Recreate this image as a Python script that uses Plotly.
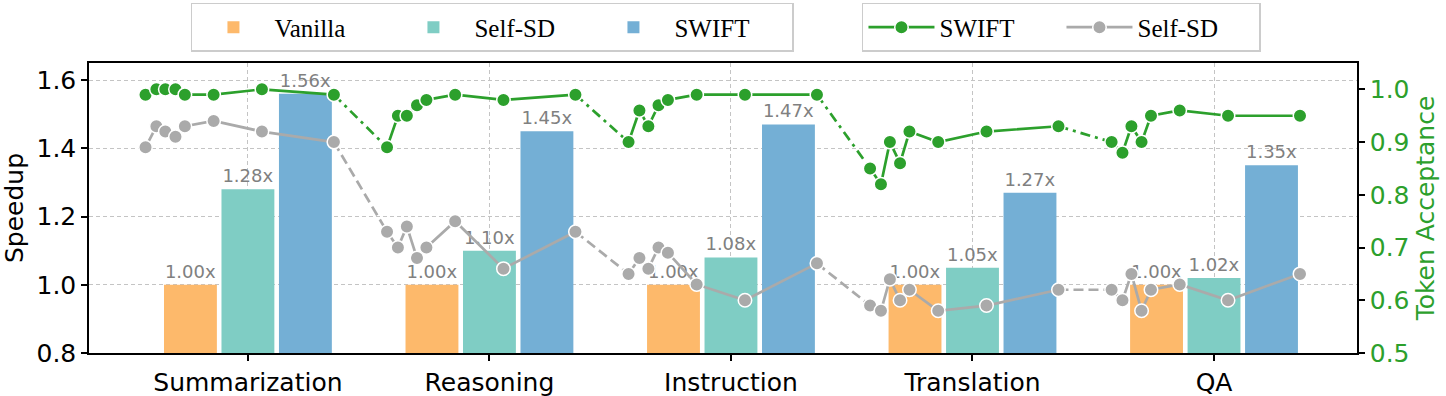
import plotly.graph_objects as go

# ---------------- data ----------------
categories = ["Summarization", "Reasoning", "Instruction", "Translation", "QA"]

vanilla_speedup = [1.00, 1.00, 1.00, 1.00, 1.00]
selfsd_speedup = [1.28, 1.10, 1.08, 1.05, 1.02]
swift_speedup = [1.56, 1.45, 1.47, 1.27, 1.35]

# x offsets (in category units) of the 8 acceptance points inside each task group
point_offsets = [-0.424, -0.379, -0.342, -0.300, -0.261, -0.142, 0.058, 0.356]

swift_acceptance = [
    [0.99, 1.00, 1.00, 1.00, 0.99, 0.99, 1.00, 0.99],
    [0.89, 0.95, 0.95, 0.97, 0.98, 0.99, 0.98, 0.99],
    [0.90, 0.96, 0.93, 0.97, 0.98, 0.99, 0.99, 0.99],
    [0.85, 0.82, 0.90, 0.86, 0.92, 0.90, 0.92, 0.93],
    [0.90, 0.88, 0.93, 0.90, 0.95, 0.96, 0.95, 0.95],
]
selfsd_acceptance = [
    [0.89, 0.93, 0.92, 0.91, 0.93, 0.94, 0.92, 0.90],
    [0.73, 0.70, 0.74, 0.68, 0.70, 0.75, 0.66, 0.73],
    [0.65, 0.68, 0.66, 0.70, 0.69, 0.63, 0.60, 0.67],
    [0.59, 0.58, 0.64, 0.60, 0.62, 0.58, 0.59, 0.62],
    [0.62, 0.60, 0.65, 0.58, 0.62, 0.63, 0.60, 0.65],
]

# ---------------- style ----------------
C_VAN = "#FDB96B"
C_SSD = "#7FCDC4"
C_SW = "#74AFD5"
C_GREEN = "#2CA02C"
C_GRAY = "#AAAAAA"
C_GRID = "#C4C4C4"
FONT = "DejaVu Sans"
SERIF = "Liberation Serif"

fig = go.Figure()

x_idx = list(range(len(categories)))
for name, vals, col in [("Vanilla", vanilla_speedup, C_VAN),
                        ("Self-SD", selfsd_speedup, C_SSD),
                        ("SWIFT", swift_speedup, C_SW)]:
    fig.add_trace(go.Bar(
        x=x_idx, y=vals, name=name, marker=dict(color=col, line=dict(width=0)),
        texttemplate="%{y:.2f}x", textposition="outside", cliponaxis=False,
        constraintext="none",
        textfont=dict(family=FONT, size=18, color="#808080"),
        legend="legend", hoverinfo="skip",
    ))


def build_series(acc, name, color, dash):
    traces = []
    xs = [[i + o for o in point_offsets] for i in x_idx]
    # dashed connectors between task groups
    for g in range(len(acc) - 1):
        traces.append(go.Scatter(
            x=[xs[g][-1], xs[g + 1][0]], y=[acc[g][-1], acc[g + 1][0]],
            mode="lines", line=dict(color=color, width=2.7, dash=dash),
            yaxis="y2", showlegend=False, hoverinfo="skip", cliponaxis=False,
        ))
    for g in range(len(acc)):
        traces.append(go.Scatter(
            x=xs[g], y=acc[g], mode="lines+markers", name=name,
            line=dict(color=color, width=2.7),
            marker=dict(color=color, size=13.5, line=dict(color="white", width=1.5)),
            yaxis="y2", showlegend=(g == 0), legend="legend2",
            hoverinfo="skip", cliponaxis=False,
        ))
    return traces


swift_traces = build_series(swift_acceptance, "SWIFT", C_GREEN, "10px,5px,3px,5px")
selfsd_traces = build_series(selfsd_acceptance, "Self-SD", C_GRAY, "10px,5px")
# gray drawn first (below), but SWIFT listed first in the legend
for t in selfsd_traces:
    t.legendrank = 2
    fig.add_trace(t)
for t in swift_traces:
    t.legendrank = 1
    fig.add_trace(t)

axis_common = dict(showline=True, linecolor="black", linewidth=1.5,
                   ticks="outside", ticklen=6, tickwidth=1.5, tickcolor="black",
                   automargin=False)

fig.update_layout(
    width=1446, height=396,
    margin=dict(l=89, r=89, t=63, b=43, autoexpand=False),
    paper_bgcolor="white", plot_bgcolor="white",
    barmode="group", bargap=0.286, bargroupgap=0.08,
    font=dict(family=FONT, size=25, color="black"),
    xaxis=dict(
        range=[-0.658, 4.592], tickmode="array", tickvals=x_idx, ticktext=categories,
        showgrid=True, gridcolor=C_GRID, griddash="4px,3px", gridwidth=1,
        mirror=True, zeroline=False, tickfont=dict(family=FONT, size=25),
        **axis_common,
    ),
    yaxis=dict(
        range=[0.8, 1.65], tickmode="array", tickvals=[0.8, 1.0, 1.2, 1.4, 1.6],
        tickformat=".1f", showgrid=True, gridcolor=C_GRID, griddash="4px,3px",
        gridwidth=1, zeroline=False,
        title=dict(text="Speedup", font=dict(family=FONT, size=25), standoff=8),
        tickfont=dict(family=FONT, size=25),
        **axis_common,
    ),
    yaxis2=dict(
        overlaying="y", side="right", range=[0.5, 1.05], tickmode="array",
        tickvals=[0.5, 0.6, 0.7, 0.8, 0.9, 1.0], tickformat=".1f",
        showgrid=False, zeroline=False,
        title=dict(text="Token Acceptance", font=dict(family=FONT, size=25, color=C_GREEN), standoff=8),
        tickfont=dict(family=FONT, size=25, color=C_GREEN),
        **axis_common,
    ),
    legend=dict(
        orientation="h", x=0.0804, y=1.207, xanchor="left", yanchor="top",
        bgcolor="white", bordercolor="#CCCCCC", borderwidth=1.5,
        font=dict(family=SERIF, size=25, color="black"),
        itemwidth=72, entrywidth=113, entrywidthmode="pixels",
    ),
    legend2=dict(
        orientation="h", x=0.6096, y=1.207, xanchor="left", yanchor="top",
        bgcolor="white", bordercolor="#CCCCCC", borderwidth=1.5,
        font=dict(family=SERIF, size=25, color="black"),
        itemwidth=66, entrywidth=117, entrywidthmode="pixels",
    ),
)

fig.write_html(
    "out.html",
    config={"displayModeBar": False},
    post_script="document.body.style.margin='0px';document.body.style.overflow='hidden';",
)
